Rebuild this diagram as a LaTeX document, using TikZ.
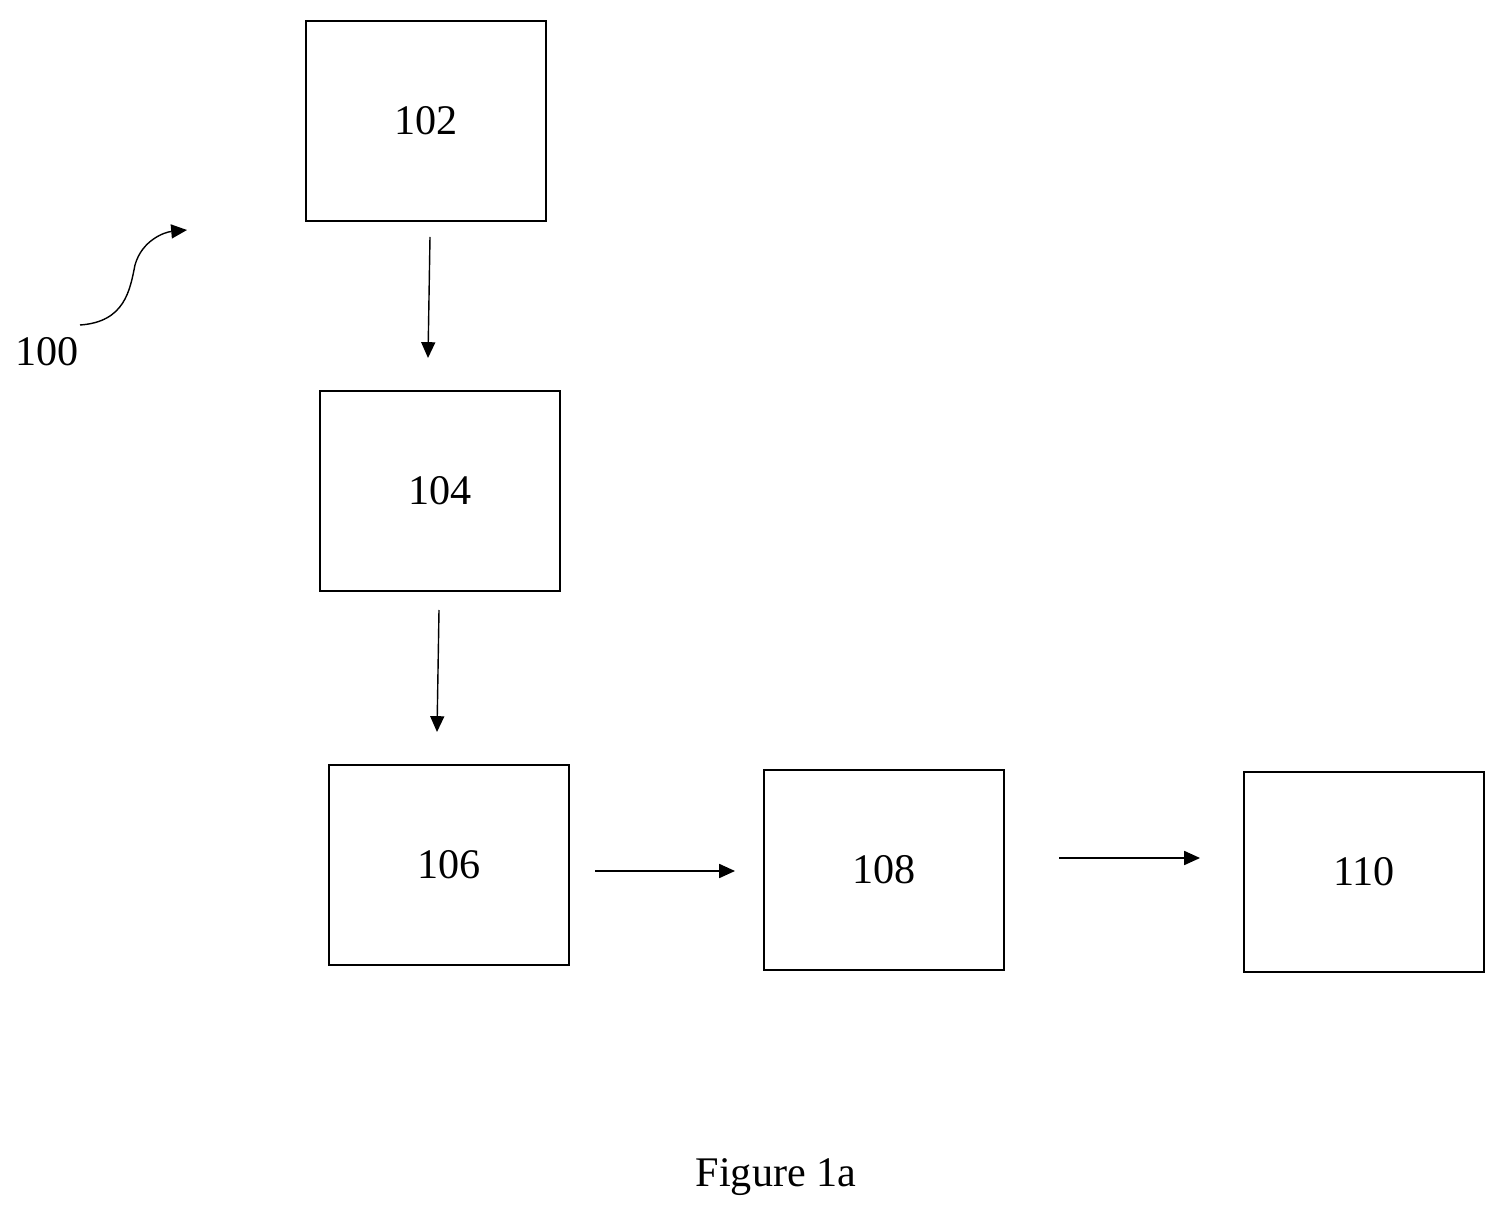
\documentclass[tikz,border=0pt]{standalone}
\usepackage{fontspec}
\setmainfont{Liberation Serif}
\usetikzlibrary{arrows.meta}
\begin{document}
\begin{tikzpicture}[x=0.02cm, y=-0.02cm, font=\fontsize{24}{28}\selectfont]
    \tikzstyle{block}=[draw=black, line width=1.6pt, minimum width=4.8cm, minimum height=4cm, inner sep=0pt]
    \tikzstyle{flow}=[-{Triangle[length=9pt,width=8pt]}, line width=0.8pt]
    \useasboundingbox (0,0) rectangle (1507,1222);

    % blocks
    \node [block] (b102) at (426,121) {102};
    \node [block] (b104) at (440,491) {104};
    \node [block] (b106) at (449,865) {106};
    \node [block] (b108) at (884,870) {108};
    \node [block] (b110) at (1364,872) {110};

    % free ends of the arrows
    \coordinate (a1s) at (430,237);  \coordinate (a1e) at (428,358);
    \coordinate (a2s) at (439,610);  \coordinate (a2e) at (437,732);
    \coordinate (a3s) at (595,871);  \coordinate (a3e) at (735,871);
    \coordinate (a4s) at (1059,858); \coordinate (a4e) at (1200,858);

    \foreach \s/\e in {a1s/a1e, a2s/a2e, a3s/a3e, a4s/a4e}
    \draw [flow] (\s) -- (\e);

    % reference label
    \node (l100) at (47,352) {100};
    \coordinate (c100) at (187,230);
    \draw [flow] (80,325) .. controls (125,322) and (130,290) .. (135,265)
        .. controls (142,240) and (165,232) .. (c100);

    \node (cap) at (776,1177) {Figure 1a};
\end{tikzpicture}
\end{document}
